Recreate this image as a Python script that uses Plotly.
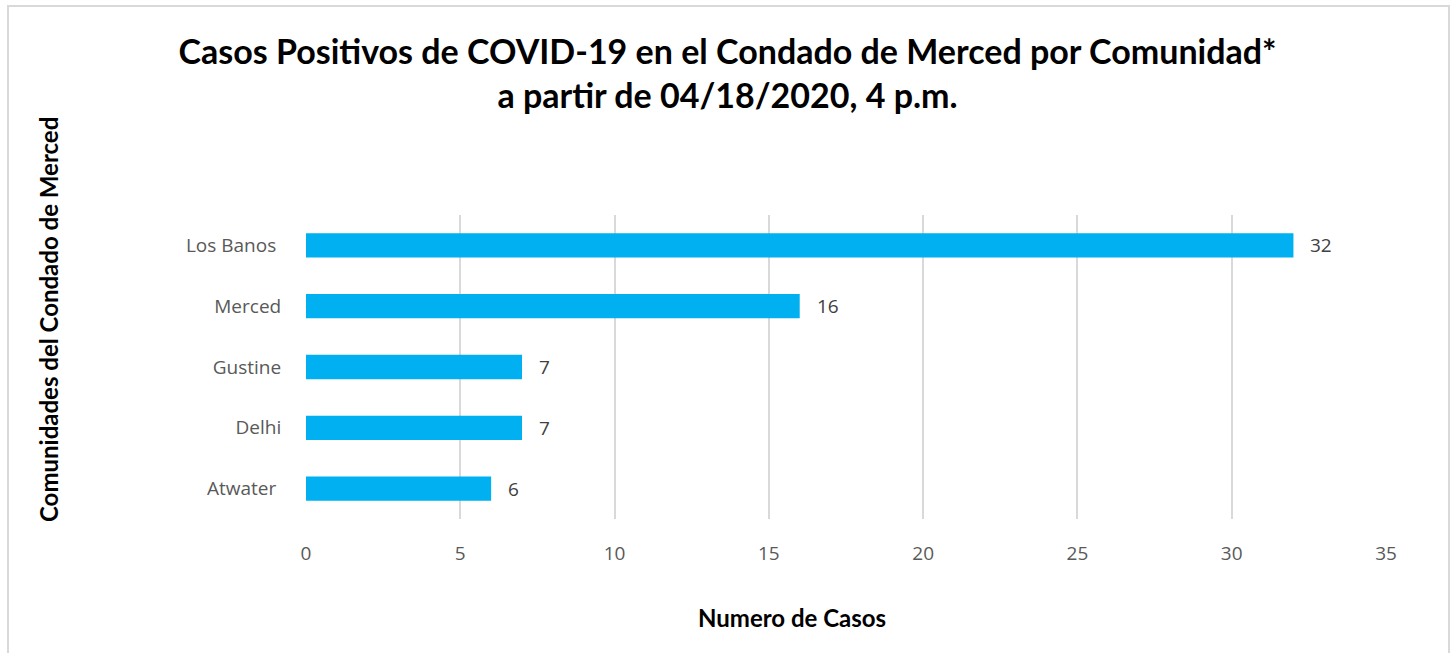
import plotly.graph_objects as go

communities = ["Atwater ", "Delhi", "Gustine", "Merced", "Los Banos "]
cases = [6, 7, 7, 16, 32]
x_ticks = [0, 5, 10, 15, 20, 25, 30, 35]

W, H = 1455, 653
L, R, T, B = 306, 69, 215, 134
pw, ph = W - L - R, H - T - B

def px_x(x):
    return (x - L) / pw

def px_y(y):
    return (H - B - y) / ph

fig = go.Figure(go.Bar(
    x=cases, y=communities, orientation="h",
    marker=dict(color="#00B0F0", line=dict(width=0)),
    width=0.4,
))

label_annotations = [
    dict(text=str(v), x=v, y=c, xref="x", yref="y", xanchor="left", yanchor="middle",
         xshift=15, showarrow=False,
         font=dict(family="Open Sans", size=19, color="#404040"))
    for c, v in zip(communities, cases)
]

fig.update_layout(
    width=W, height=H,
    margin=dict(l=L, r=R, t=T, b=B),
    paper_bgcolor="white", plot_bgcolor="white",
    showlegend=False,
    title=dict(
        text="<b>Casos Positivos de COVID-19 en el Condado de Merced por Comunidad*<br>a partir de 04/18/2020, 4 p.m.</b>",
        x=0.5, xanchor="center", y=1 - 64 / H, yanchor="middle",
        font=dict(family="Lato", size=34, color="#000000"),
    ),
    xaxis=dict(
        range=[0, 35], tickvals=x_ticks, showgrid=True, gridcolor="#D9D9D9", gridwidth=2,
        zeroline=False, showline=False,
        tickfont=dict(family="Open Sans", size=19, color="#595959"),
        ticks="outside", ticklen=17, tickcolor="rgba(0,0,0,0)",
    ),
    yaxis=dict(
        showgrid=False, zeroline=False, showline=False,
        tickfont=dict(family="Open Sans", size=19, color="#595959"),
        ticks="outside", ticklen=20, tickcolor="rgba(0,0,0,0)",
    ),
    bargap=0.6,
    annotations=label_annotations + [
        dict(text="<b>Numero de Casos</b>", xref="paper", yref="paper",
             x=px_x(792), y=px_y(617), xanchor="center", yanchor="middle", showarrow=False,
             font=dict(family="Lato", size=24, color="#000000")),
        dict(text="<b>Comunidades del Condado de Merced</b>", xref="paper", yref="paper",
             x=px_x(48), y=px_y(320), xanchor="center", yanchor="middle", showarrow=False,
             textangle=-90, font=dict(family="Lato", size=24, color="#000000")),
    ],
    shapes=[
        dict(type="rect", xref="paper", yref="paper",
             x0=px_x(8), x1=px_x(1449), y0=px_y(665), y1=px_y(6),
             line=dict(color="#D9D9D9", width=2), fillcolor="rgba(0,0,0,0)", layer="below"),
    ],
)

fig.write_html("out.html", config={"displayModeBar": False},
               post_script="document.body.style.margin='0';")
